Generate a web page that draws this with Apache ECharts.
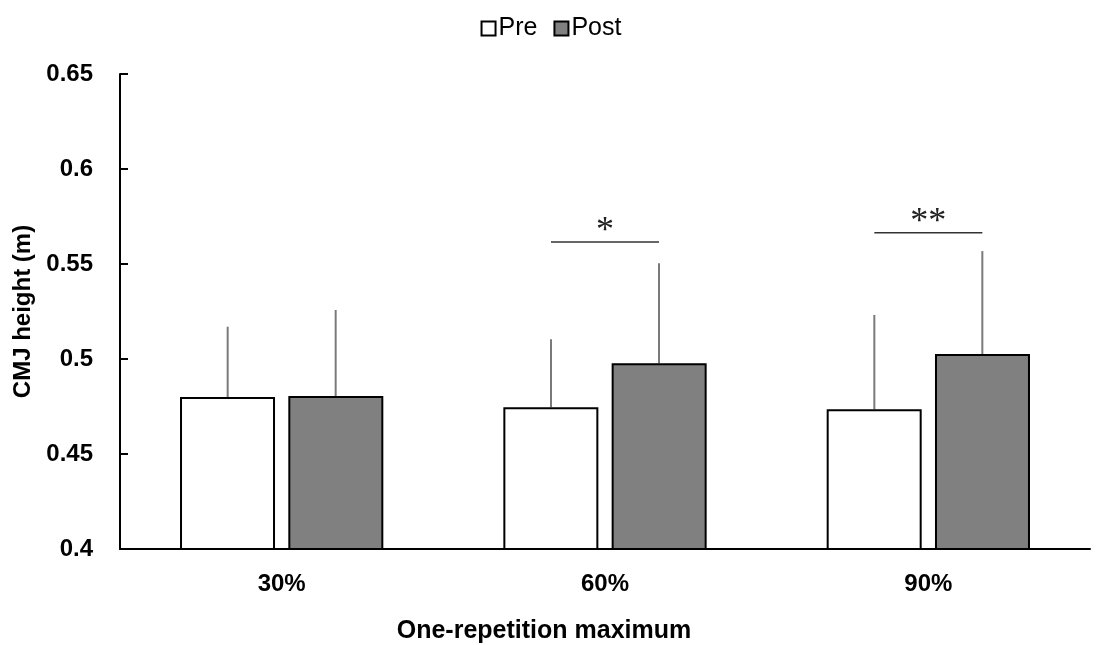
<!DOCTYPE html>
<html>
<head>
<meta charset="utf-8">
<style>
  html, body { margin: 0; padding: 0; background: #fff; }
  #main { width: 1102px; height: 645px; }
</style>
<script src="https://cdn.jsdelivr.net/npm/echarts@6/dist/echarts.min.js"></script>
</head>
<body>
<div id="main"></div>
<script>
// data
var categories = ["30%", "60%", "90%"];
var preMean = [0.480, 0.4746, 0.4735];
var preUpper = [0.517, 0.5104, 0.5232];
var postMean = [0.4805, 0.4977, 0.5026];
var postUpper = [0.5258, 0.5504, 0.5568];
var sigCats = [1, 2];
var sigLevel = [0.5616, 0.5665];
var sigMarks = ["*", "**"];
var yTicks = [0.4, 0.45, 0.5, 0.55, 0.6, 0.65];

var FONT = "'Liberation Sans', Arial, sans-serif";
var BAR_W = 95;
var HALF = 54; // half distance between pre / post bar centres

function errData(means, uppers) {
  return means.map(function (m, i) { return [i, m, uppers[i]]; });
}

function errRender(shift) {
  return function (params, api) {
    var a = api.coord([api.value(0), api.value(1)]);
    var b = api.coord([api.value(0), api.value(2)]);
    return {
      type: "line",
      shape: { x1: a[0] + shift, y1: a[1], x2: b[0] + shift, y2: b[1] },
      style: { stroke: "#7a7a7a", lineWidth: 2 }
    };
  };
}

var myChart = echarts.init(document.getElementById("main"));
myChart.setOption({
  animation: false,
  grid: { left: 120, right: 12, top: 74, bottom: 96, outerBoundsMode: "none", containLabel: false },
  legend: {
    top: 11,
    left: "center",
    itemWidth: 14,
    itemHeight: 14,
    itemGap: 16,
    icon: "rect",
    textStyle: { fontFamily: FONT, fontSize: 25, color: "#000", padding: [0, 0, 0, -2] },
    data: ["Pre", "Post"]
  },
  xAxis: {
    type: "category",
    data: categories,
    axisLine: { lineStyle: { color: "#000", width: 2 } },
    axisTick: { show: false },
    axisLabel: { fontFamily: FONT, fontSize: 24, fontWeight: "bold", color: "#000", margin: 23 },
    name: "One-repetition maximum",
    nameLocation: "middle",
    nameGap: 70,
    nameTextStyle: { fontFamily: FONT, fontSize: 25, fontWeight: "bold", color: "#000", padding: [0, 122, 0, 0] }
  },
  yAxis: {
    type: "value",
    min: yTicks[0],
    max: yTicks[yTicks.length - 1],
    interval: 0.05,
    splitLine: { show: false },
    axisLine: { show: true, lineStyle: { color: "#000", width: 2 } },
    axisTick: { show: true, inside: true, length: 8, lineStyle: { color: "#000", width: 2 } },
    axisLabel: {
      fontFamily: FONT, fontSize: 24, fontWeight: "bold", color: "#000", margin: 27,
      formatter: function (v) { return String(+v.toFixed(2)); }
    },
    name: "CMJ height (m)",
    nameLocation: "middle",
    nameGap: 84,
    nameRotate: 90,
    nameTextStyle: { fontFamily: FONT, fontSize: 24, fontWeight: "bold", color: "#000" }
  },
  series: [
    {
      name: "Pre",
      type: "bar",
      data: preMean,
      barWidth: BAR_W,
      barGap: "14%",
      itemStyle: { color: "#ffffff", borderColor: "#000", borderWidth: 2 }
    },
    {
      name: "Post",
      type: "bar",
      data: postMean,
      barWidth: BAR_W,
      barGap: "14%",
      itemStyle: { color: "#808080", borderColor: "#000", borderWidth: 2 }
    },
    {
      type: "custom",
      renderItem: errRender(-HALF),
      data: errData(preMean, preUpper),
      z: 1
    },
    {
      type: "custom",
      renderItem: errRender(HALF),
      data: errData(postMean, postUpper),
      z: 1
    },
    {
      type: "custom",
      data: sigCats.map(function (c, i) { return [c, sigLevel[i], sigMarks[i]]; }),
      renderItem: function (params, api) {
        var p = api.coord([api.value(0), api.value(1)]);
        var mark = sigMarks[params.dataIndex];
        return {
          type: "group",
          children: [
            {
              type: "line",
              shape: { x1: p[0] - HALF, y1: p[1], x2: p[0] + HALF, y2: p[1] },
              style: { stroke: "#333", lineWidth: 1.5 }
            },
            {
              type: "text",
              style: {
                x: p[0], y: p[1] + 8,
                text: mark,
                align: "center",
                verticalAlign: "bottom",
                fontFamily: "'Liberation Serif', 'DejaVu Serif', serif",
                fontSize: 36,
                fill: "#222"
              }
            }
          ]
        };
      },
      z: 3
    }
  ]
});
</script>
</body>
</html>
